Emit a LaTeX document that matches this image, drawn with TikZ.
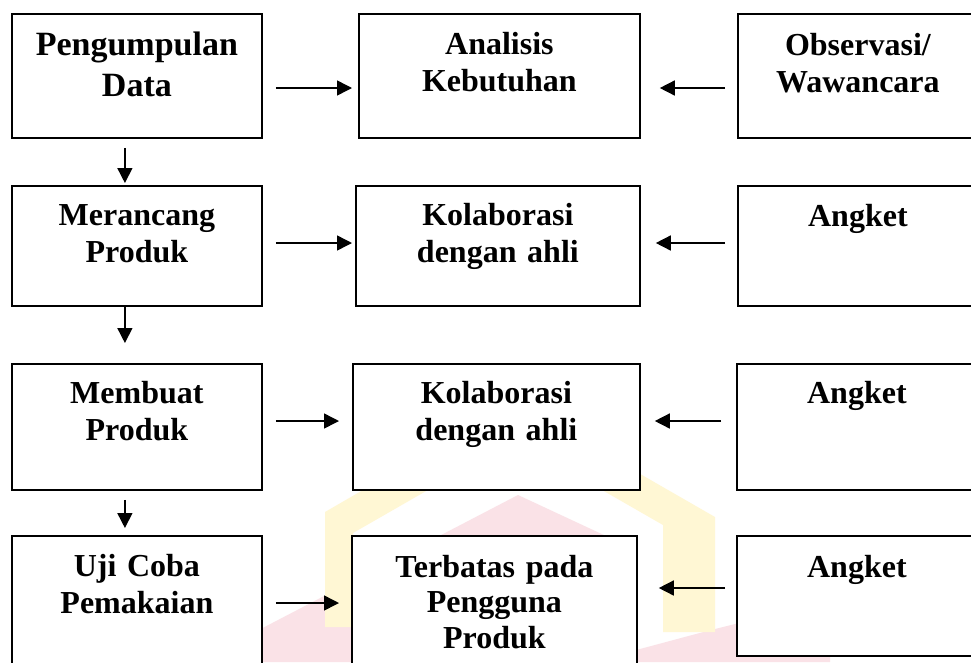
\documentclass[tikz,border=0pt]{standalone}
\usepackage{fontspec}
\setmainfont{Liberation Serif}
\usetikzlibrary{arrows.meta,calc}
\definecolor{wmyellow}{RGB}{255,247,212}
\definecolor{wmpink}{RGB}{250,226,231}
\tikzset{
  box/.style={draw=black, line width=1.8pt, fill=white, anchor=north west, inner sep=0pt},
  lbl/.style={font=\bfseries\fontsize{32}{37}\selectfont, align=center, anchor=base, inner sep=0pt, text width=240pt},
  arr/.style={line width=1.5pt, -{Triangle[length=15pt,width=15pt]}},
}
\begin{document}
\begin{tikzpicture}[x=1pt,y=-1pt]
\useasboundingbox (0,0) rectangle (971,662);
\clip (0,0) rectangle (971,662);
\fill[white] (0,0) rectangle (971,662);
% faint watermark
\fill[wmpink] (518,495) -- (636,550) -- (636,662) -- (230,662) -- (230,645) -- cycle;
\fill[wmpink] (636,650) .. controls (690,636) and (760,615) .. (830,605) -- (830,662) -- (636,662) -- cycle;
\fill[wmyellow] (325,627) -- (325,512) -- (515,402) -- (715,517) -- (715,632) -- (663,632) -- (663,525) -- (515,440) -- (353,533) -- (353,627) -- cycle;
% row 1
\node[box, minimum width=250pt, minimum height=124pt] (pd) at (11,13) {};
\node[box, minimum width=281pt, minimum height=124pt] (ak) at (358,13) {};
\node[box, minimum width=240pt, minimum height=124pt] (ow) at (737,13) {};
\node[lbl, font=\bfseries\fontsize{34}{41}\selectfont] (pdt) at ($(pd.north)+(0,42)$) {Pengumpulan\\Data};
\node[lbl] (akt) at ($(ak.north)+(0,41)$) {Analisis\\Kebutuhan};
\node[lbl] (owt) at ($(ow.north)+(0,42)$) {Observasi/\\Wawancara};
% row 2
\node[box, minimum width=250pt, minimum height=120pt] (mp) at (11,185) {};
\node[box, minimum width=284pt, minimum height=120pt] (kd1) at (355,185) {};
\node[box, minimum width=240pt, minimum height=120pt] (an1) at (737,185) {};
\node[lbl] (mpt) at ($(mp.north)+(0,40)$) {Merancang\\Produk};
\node[lbl] (kd1t) at ($(kd1.north)+(0,40)$) {Kolaborasi\\dengan ahli};
\node[lbl] (an1t) at ($(an1.north)+(0,41)$) {Angket};
% row 3
\node[box, minimum width=250pt, minimum height=126pt] (mb) at (11,363) {};
\node[box, minimum width=287pt, minimum height=126pt] (kd2) at (352,363) {};
\node[box, minimum width=240pt, minimum height=126pt] (an2) at (736,363) {};
\node[lbl] (mbt) at ($(mb.north)+(0,40)$) {Membuat\\Produk};
\node[lbl] (kd2t) at ($(kd2.north)+(0,40)$) {Kolaborasi\\dengan ahli};
\node[lbl] (an2t) at ($(an2.north)+(0,40)$) {Angket};
% row 4
\node[box, minimum width=250pt, minimum height=150pt] (uc) at (11,535) {};
\node[box, minimum width=285pt, minimum height=150pt] (tp) at (351,535) {};
\node[box, minimum width=240pt, minimum height=120pt] (an3) at (736,535) {};
\node[lbl] (uct) at ($(uc.north)+(0,41)$) {Uji Coba\\Pemakaian};
\node[lbl, font=\bfseries\fontsize{32}{35.5}\selectfont] (tpt) at ($(tp.north)+(0,42)$) {Terbatas pada\\Pengguna\\Produk};
\node[lbl] (an3t) at ($(an3.north)+(0,42)$) {Angket};
% horizontal arrows
\draw[arr] ($(pd.north east)+(13,75)$) -- ($(ak.north west)+(-6,75)$);
\draw[arr] ($(ow.north west)+(-12,75)$) -- ($(ak.north east)+(19,75)$);
\draw[arr] ($(mp.north east)+(13,58)$) -- ($(kd1.north west)+(-3,58)$);
\draw[arr] ($(an1.north west)+(-12,58)$) -- ($(kd1.north east)+(15,58)$);
\draw[arr] ($(mb.north east)+(13,58)$) -- ($(kd2.north west)+(-13,58)$);
\draw[arr] ($(an2.north west)+(-15,58)$) -- ($(kd2.north east)+(14,58)$);
\draw[arr] ($(uc.north east)+(13,68)$) -- ($(tp.north west)+(-12,68)$);
\draw[arr] ($(an3.north west)+(-11,53)$) -- ($(tp.north east)+(21,53)$);
% vertical arrows
\draw[arr] ($(pd.south)+(-12,9)$) -- ($(mp.north)+(-12,-2)$);
\draw[arr] ($(mp.south)+(-12,0)$) -- ($(mb.north)+(-12,-20)$);
\draw[arr] ($(mb.south)+(-12,9)$) -- ($(uc.north)+(-12,-7)$);
\end{tikzpicture}
\end{document}
